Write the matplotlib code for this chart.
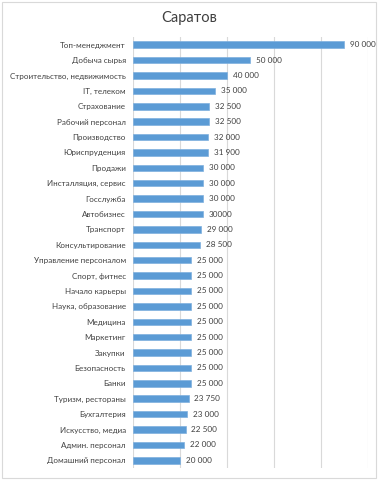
import numpy as np
import matplotlib.pyplot as plt

plt.rcParams['font.family'] = ['Lato', 'DejaVu Sans']

categories = ["Топ-менеджмент", "Добыча сырья", "Строительство, недвижимость",
              "IT, телеком", "Страхование", "Рабочий персонал", "Производство",
              "Юриспруденция", "Продажи", "Инсталляция, сервис", "Госслужба",
              "Автобизнес", "Транспорт", "Консультирование", "Управление персоналом",
              "Спорт, фитнес", "Начало карьеры", "Наука, образование", "Медицина",
              "Маркетинг", "Закупки", "Безопасность", "Банки", "Туризм, рестораны",
              "Бухгалтерия", "Искусство, медиа", "Админ. персонал", "Домашний персонал"]
values = [90000, 50000, 40000, 35000, 32500, 32500, 32000, 31900, 30000, 30000,
          30000, 30000, 29000, 28500, 25000, 25000, 25000, 25000, 25000, 25000,
          25000, 25000, 25000, 23750, 23000, 22500, 22000, 20000]
value_labels = ["90 000", "50 000", "40 000", "35 000", "32 500", "32 500", "32 000",
                "31 900", "30 000", "30 000", "30 000", "30000", "29 000", "28 500",
                "25 000", "25 000", "25 000", "25 000", "25 000", "25 000", "25 000",
                "25 000", "25 000", "23 750", "23 000", "22 500", "22 000", "20 000"]

fig = plt.figure(figsize=(3.78, 4.8), dpi=100)
ax = fig.add_axes([132.7/378, 12/480, (367.7-132.7)/378, (468-37)/480])

y = np.arange(len(categories))
ax.barh(y, values, height=0.42, color='#5B9BD5', edgecolor='#7fb0de', linewidth=0.5, zorder=3)
for yi, v, lab in zip(y, values, value_labels):
    ax.text(v + 2500, yi, lab, va='center', ha='left', fontsize=5.9, color='#404040')

ax.set_xlim(0, 100000)
ax.set_ylim(len(categories) - 0.5, -0.5)
ax.set_xticks([0, 20000, 40000, 60000, 80000, 100000])
ax.set_xticklabels([])
ax.tick_params(axis='x', length=0)
ax.tick_params(axis='y', length=0, labelsize=5.8, labelcolor='#404040', pad=5)
ax.set_yticks(y)
ax.set_yticklabels(categories)
ax.grid(axis='x', color='#d9d9d9', linewidth=0.8, zorder=0)
for s in ax.spines.values():
    s.set_visible(False)

fig.text(0.5, 1 - 18/480, "Саратов", ha='center', va='center', fontsize=10.5, color='#404040')
fig.patches.append(plt.Rectangle((2/378, 2/480), 374/378, 476/480, transform=fig.transFigure,
                                 fill=False, edgecolor='#d9d9d9', linewidth=0.8))

fig.savefig('out.png', dpi=100)
